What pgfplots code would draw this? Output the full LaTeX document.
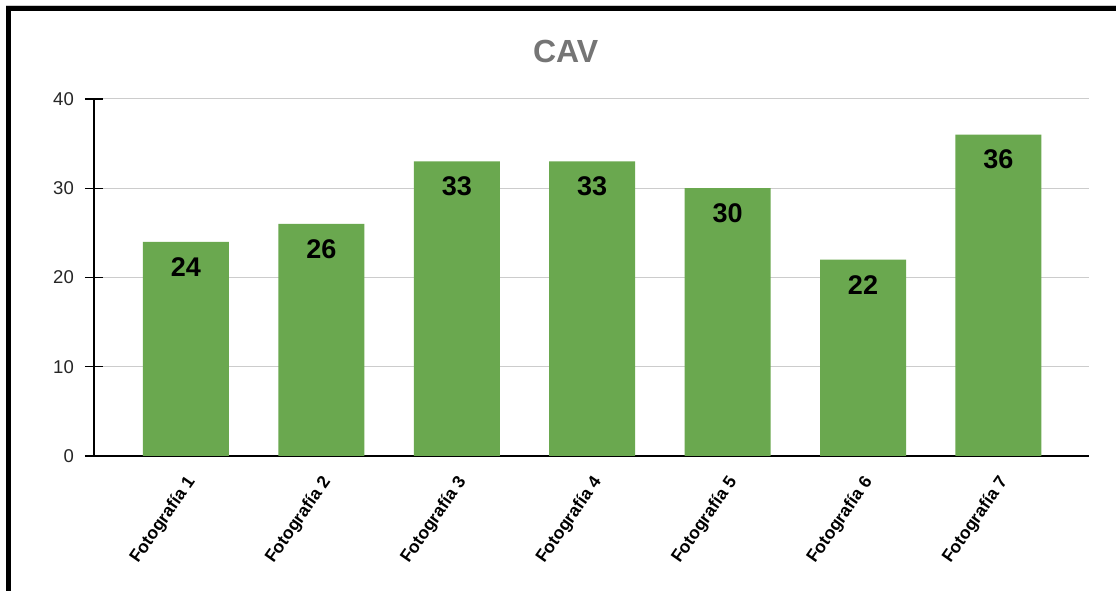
\documentclass[border=0pt]{standalone}
\usepackage{pgfplots}
\pgfplotsset{compat=1.18}
\usepackage{fontspec}
\setmainfont{Liberation Sans}
\definecolor{bargreen}{HTML}{6AA84F}
\definecolor{titlegray}{HTML}{757575}
\definecolor{gridgray}{HTML}{CCCCCC}
\begin{document}
\begin{tikzpicture}
\useasboundingbox (0,0) rectangle (1116pt,591pt);
\fill[white] (0,0) rectangle (1116pt,591pt);
\begin{axis}[
  at={(94pt,135pt)}, anchor=south west,
  scale only axis, width=995pt, height=357pt,
  ybar, bar width=86pt,
  xmin=-0.679, xmax=6.669, ymin=0, ymax=40,
  xtick={0,1,2,3,4,5,6},
  xticklabels={Fotografía 1,Fotografía 2,Fotografía 3,Fotografía 4,Fotografía 5,Fotografía 6,Fotografía 7},
  ytick={0,10,20,30,40},
  axis x line=bottom, axis y line=left,
  axis line style={-, black, line width=1.2pt},
  x axis line style={line width=1.2pt},
  major x tick style={draw=none},
  major y tick style={black, line width=1.2pt},
  tick align=center, major tick length=18pt,
  ymajorgrids, grid style={gridgray, line width=1pt},
  /pgf/number format/assume math mode=true,
  yticklabel style={anchor=east, inner sep=0pt, xshift=-11pt, font=\fontsize{18.5}{18.5}\selectfont, text=black!85},
  xticklabel style={anchor=east, inner sep=0pt, xshift=6pt, yshift=-14pt, rotate=55, font=\bfseries\fontsize{17.5}{17.5}\selectfont, text=black},
  title={\bfseries CAV},
  title style={at={(rel axis cs:0.474,1)}, anchor=center, yshift=42pt, font=\fontsize{32}{32}\selectfont, text=titlegray},
  nodes near coords,
  every node near coord/.append style={anchor=center, yshift=-25pt, font=\bfseries\fontsize{27}{27}\selectfont, text=black},
]
\addplot[fill=bargreen, draw=none] coordinates {(0,24) (1,26) (2,33) (3,33) (4,30) (5,22) (6,36)};
\end{axis}
\fill[black] (6pt,580pt) rectangle (1116pt,585pt);
\fill[black] (6pt,0pt) rectangle (11pt,585pt);
\draw[gray!40, line width=0.6pt] (6pt,585.6pt) -- (1116pt,585.6pt);
\end{tikzpicture}
\end{document}
